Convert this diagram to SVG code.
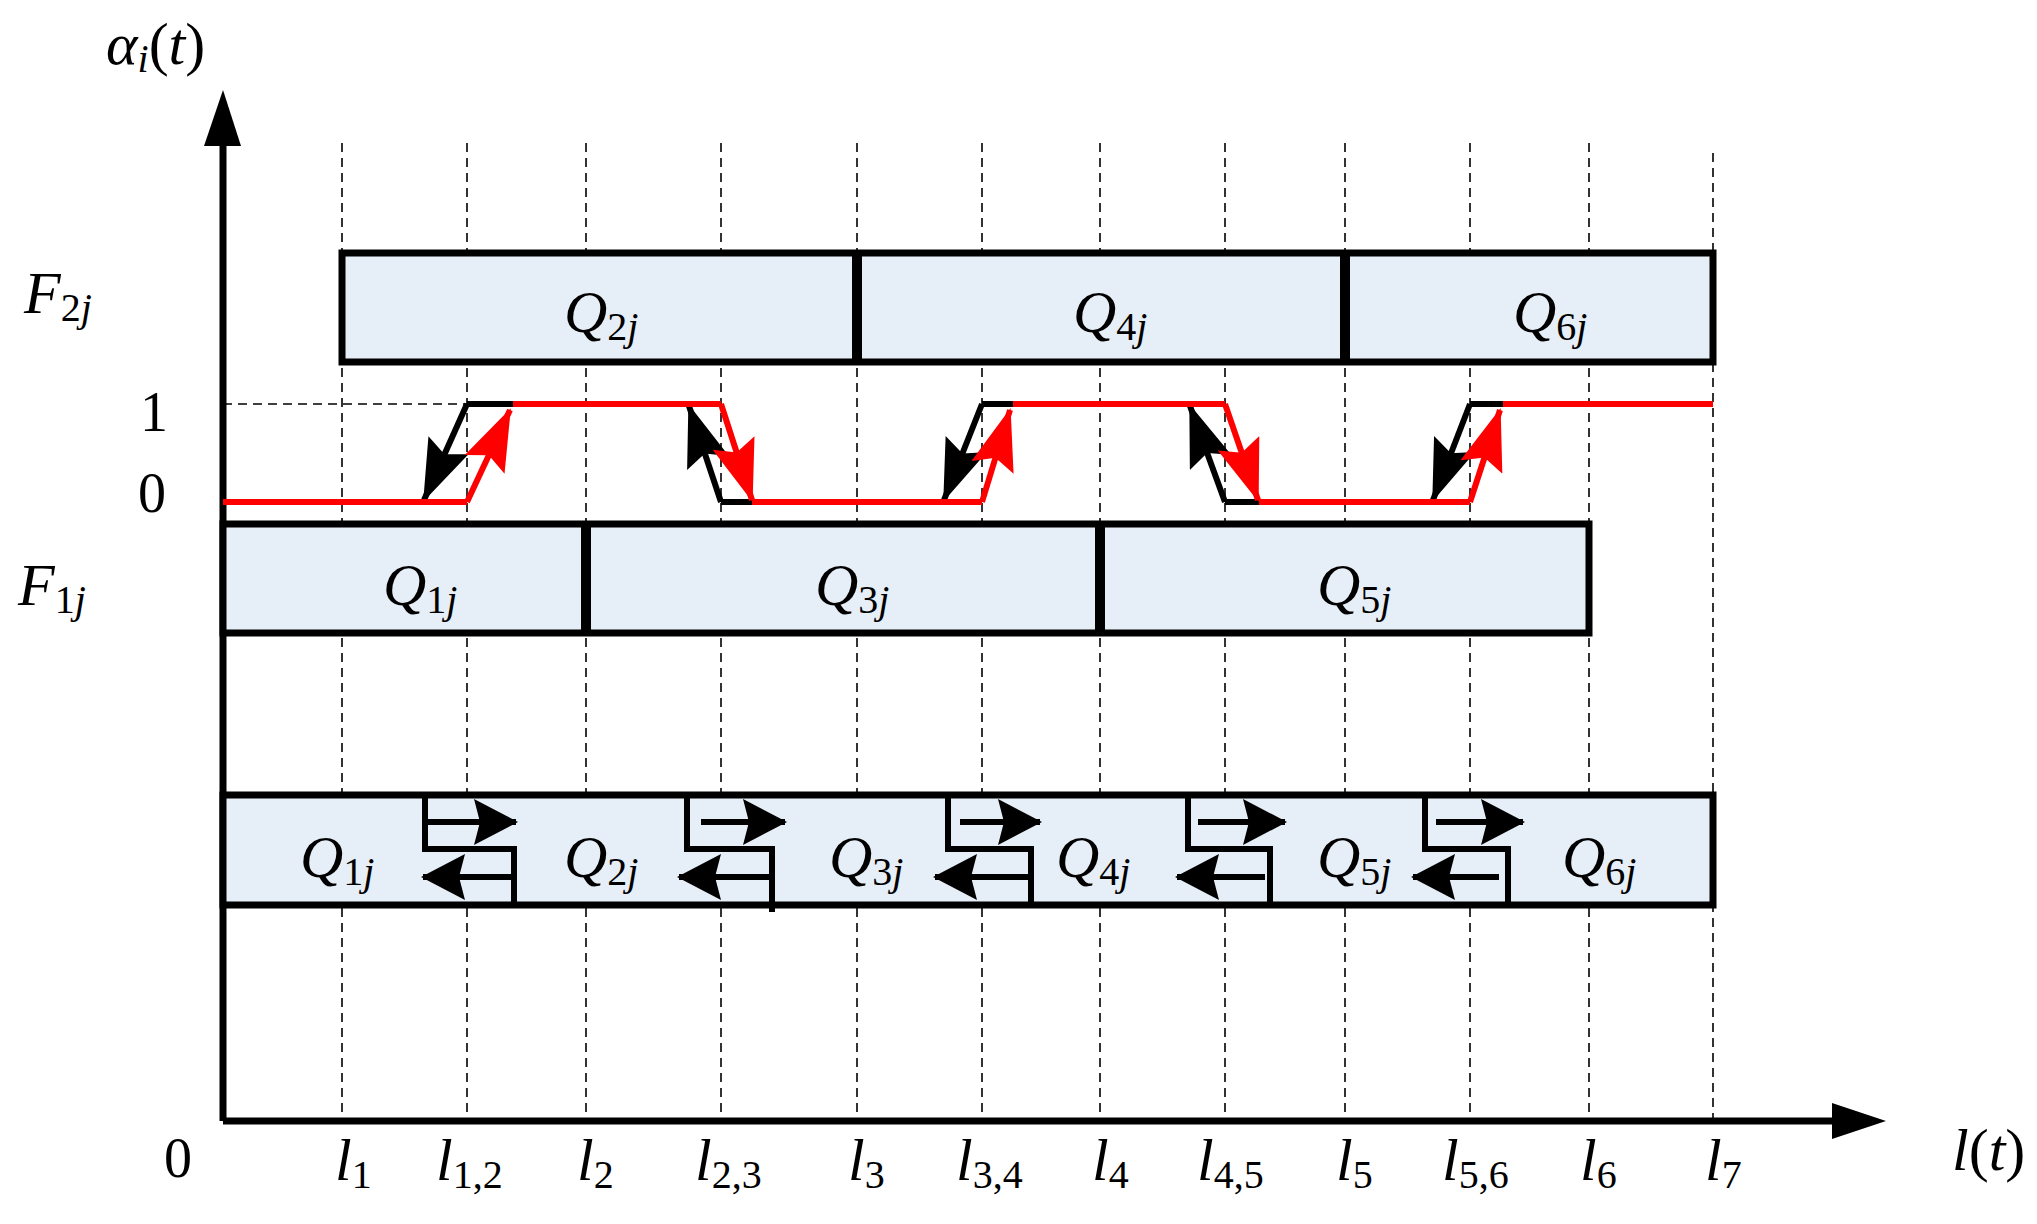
<svg xmlns="http://www.w3.org/2000/svg" width="2037" height="1224" viewBox="0 0 2037 1224">
<style>
.dash{stroke:#000;stroke-width:1.6;stroke-dasharray:9,6;fill:none}
.box{fill:#e6eef8;stroke:#000;stroke-width:7}
.div{stroke:#000;stroke-width:10}
.t{font-family:"Liberation Serif",serif;font-style:italic;font-size:60px}
.s{font-family:"Liberation Serif",serif;font-style:normal;font-size:40px}
.si{font-family:"Liberation Serif",serif;font-style:italic;font-size:40px}
.u{font-style:normal}
.n{font-family:"Liberation Serif",serif;font-size:56px}
.blk{stroke:#000;stroke-width:6;fill:none;stroke-linejoin:miter}
.red{stroke:#f00;stroke-width:6;fill:none}
</style>
<defs>
<marker id="ab" markerUnits="userSpaceOnUse" markerWidth="62" markerHeight="44" refX="60" refY="22" orient="auto"><path d="M0,0 L62,22 L0,44 L10,22 z" fill="#000"/></marker>
<marker id="ar" markerUnits="userSpaceOnUse" markerWidth="62" markerHeight="44" refX="60" refY="22" orient="auto"><path d="M0,0 L62,22 L0,44 L10,22 z" fill="#f00"/></marker>
<marker id="as" markerUnits="userSpaceOnUse" markerWidth="44" markerHeight="46" refX="42" refY="23" orient="auto"><path d="M0,0 L44,23 L0,46 L6,23 z" fill="#000"/></marker>
</defs>
<g id="grid">
<path class="dash" d="M342,143V1121 M467,143V1121 M586,143V1121 M721,143V1121 M857,143V1121 M982,143V1121 M1100,143V1121 M1225,143V1121 M1345,143V1121 M1470,143V1121 M1589,143V1121 M1713,153V1126 M223,404H467"/>
</g>
<g id="axes">
<path d="M223,1121V140 M223,1121H1840" stroke="#000" stroke-width="7" fill="none"/>
<path d="M204,146 L223,90 L241,146 z" fill="#000"/>
<path d="M1832,1103 L1886,1121 L1832,1139 z" fill="#000"/>
</g>
<g id="F2">
<rect class="box" x="342" y="253" width="1371" height="109"/>
<path class="div" d="M857,253V362 M1345,253V362"/>
<text class="t" x="564" y="332">Q<tspan class="s" dy="8">2</tspan><tspan class="si">j</tspan></text>
<text class="t" x="1073" y="332">Q<tspan class="s" dy="8">4</tspan><tspan class="si">j</tspan></text>
<text class="t" x="1513" y="332">Q<tspan class="s" dy="8">6</tspan><tspan class="si">j</tspan></text>
</g>
<g id="F1">
<rect class="box" x="223" y="524" width="1366" height="109"/>
<path class="div" d="M586,524V633 M1100,524V633"/>
<text class="t" x="383" y="605">Q<tspan class="s" dy="8">1</tspan><tspan class="si">j</tspan></text>
<text class="t" x="815" y="605">Q<tspan class="s" dy="8">3</tspan><tspan class="si">j</tspan></text>
<text class="t" x="1317" y="605">Q<tspan class="s" dy="8">5</tspan><tspan class="si">j</tspan></text>
</g>
<g id="bottom">
<rect class="box" x="223" y="795" width="1490" height="110"/>
<text class="t" x="300" y="877">Q<tspan class="s" dy="8">1</tspan><tspan class="si">j</tspan></text>
<text class="t" x="564" y="877">Q<tspan class="s" dy="8">2</tspan><tspan class="si">j</tspan></text>
<text class="t" x="829" y="877">Q<tspan class="s" dy="8">3</tspan><tspan class="si">j</tspan></text>
<text class="t" x="1056" y="877">Q<tspan class="s" dy="8">4</tspan><tspan class="si">j</tspan></text>
<text class="t" x="1317" y="877">Q<tspan class="s" dy="8">5</tspan><tspan class="si">j</tspan></text>
<text class="t" x="1562" y="877">Q<tspan class="s" dy="8">6</tspan><tspan class="si">j</tspan></text>
</g>
<g id="connectors">
<path class="blk" d="M425,795V849H514V905 M687,795V849H772V912 M948,795V849H1031V905 M1188,795V849H1270V905 M1425,795V849H1508V905"/>
<path class="blk" marker-end="url(#as)" d="M425,822H516"/>
<path class="blk" marker-end="url(#as)" d="M701,822H785"/>
<path class="blk" marker-end="url(#as)" d="M960,822H1040"/>
<path class="blk" marker-end="url(#as)" d="M1198,822H1285"/>
<path class="blk" marker-end="url(#as)" d="M1436,822H1523"/>
<path class="blk" marker-end="url(#as)" d="M514,877H423"/>
<path class="blk" marker-end="url(#as)" d="M772,877H679"/>
<path class="blk" marker-end="url(#as)" d="M1031,877H935"/>
<path class="blk" marker-end="url(#as)" d="M1265,877H1177"/>
<path class="blk" marker-end="url(#as)" d="M1499,877H1413"/>
<path class="blk" d="M513,404H467 M752,502H721 M1013,404H982 M1259,502H1225 M1503,404H1470"/>
<path class="blk" marker-end="url(#ab)" d="M467,404L424,500"/>
<path class="blk" marker-end="url(#ab)" d="M721,502L689,406"/>
<path class="blk" marker-end="url(#ab)" d="M982,404L944,500"/>
<path class="blk" marker-end="url(#ab)" d="M1225,502L1190,406"/>
<path class="blk" marker-end="url(#ab)" d="M1470,404L1433,500"/>
<path class="red" d="M223,502H467 M513,404H721 M752,502H982 M1013,404H1225 M1259,502H1470 M1503,404H1713"/>
<path class="red" marker-end="url(#ar)" d="M467,502L510,410"/>
<path class="red" marker-end="url(#ar)" d="M721,404L752,500"/>
<path class="red" marker-end="url(#ar)" d="M982,502L1010,410"/>
<path class="red" marker-end="url(#ar)" d="M1225,404L1258,500"/>
<path class="red" marker-end="url(#ar)" d="M1470,502L1500,410"/>
</g>
<g id="labels">
<text class="t" x="106" y="64">α<tspan class="si" dy="8">i</tspan><tspan class="u" dy="-8">(</tspan>t<tspan class="u">)</tspan></text>
<text class="t" x="24" y="313">F<tspan class="s" dy="8">2</tspan><tspan class="si">j</tspan></text>
<text class="t" x="18" y="605">F<tspan class="s" dy="8">1</tspan><tspan class="si">j</tspan></text>
<text class="n" x="140" y="431">1</text>
<text class="n" x="138" y="512">0</text>
<text class="n" x="164" y="1177">0</text>
<text class="t" x="335" y="1180">l<tspan class="s" dy="8">1</tspan></text>
<text class="t" x="436" y="1180">l<tspan class="s" dy="8">1,2</tspan></text>
<text class="t" x="577" y="1180">l<tspan class="s" dy="8">2</tspan></text>
<text class="t" x="695" y="1180">l<tspan class="s" dy="8">2,3</tspan></text>
<text class="t" x="848" y="1180">l<tspan class="s" dy="8">3</tspan></text>
<text class="t" x="956" y="1180">l<tspan class="s" dy="8">3,4</tspan></text>
<text class="t" x="1092" y="1180">l<tspan class="s" dy="8">4</tspan></text>
<text class="t" x="1197" y="1180">l<tspan class="s" dy="8">4,5</tspan></text>
<text class="t" x="1336" y="1180">l<tspan class="s" dy="8">5</tspan></text>
<text class="t" x="1442" y="1180">l<tspan class="s" dy="8">5,6</tspan></text>
<text class="t" x="1580" y="1180">l<tspan class="s" dy="8">6</tspan></text>
<text class="t" x="1705" y="1180">l<tspan class="s" dy="8">7</tspan></text>
<text class="t" x="1952" y="1170">l<tspan class="u">(</tspan>t<tspan class="u">)</tspan></text>
</g>
</svg>
